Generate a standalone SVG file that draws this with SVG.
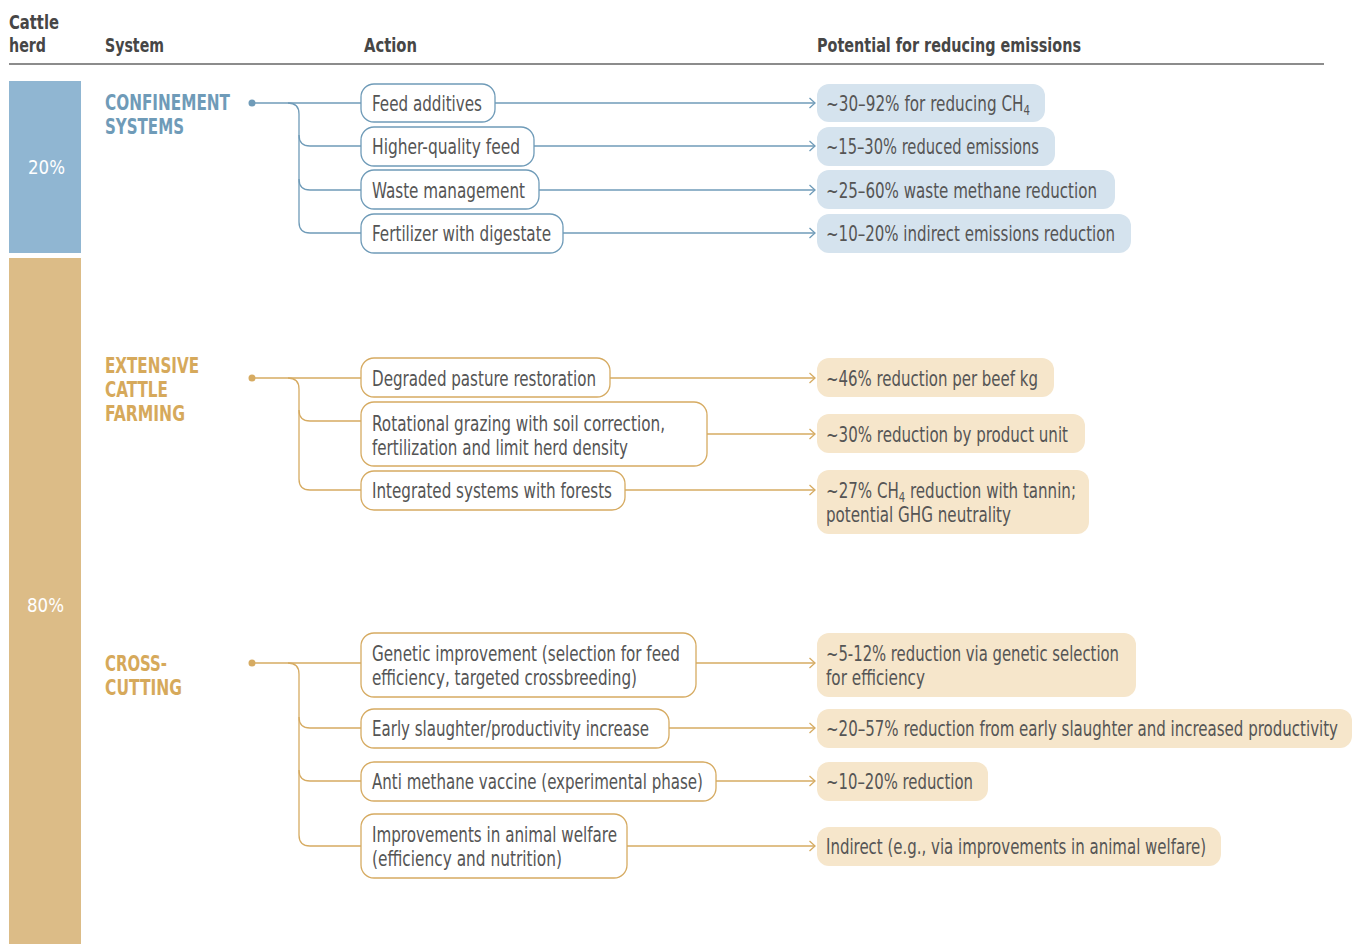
<svg xmlns="http://www.w3.org/2000/svg" width="1360" height="944" viewBox="0 0 1360 944">
<style>
text{font-family:"Liberation Sans Narrow","DejaVu Sans Condensed","Liberation Sans",sans-serif;font-stretch:condensed}
.hd{font-size:20px;font-weight:bold;fill:#464646}
.lbl{font-size:21px;fill:#555}
.res{font-size:21px;fill:#555}
.sub{font-size:14px}
.pct{font-size:20px;fill:#fff}
.catB{font-size:21px;font-weight:bold;fill:#6f9bb8}
.catG{font-size:21px;font-weight:bold;fill:#d6a95b}
.boxB{fill:#fff;stroke:#6f9bb8;stroke-width:1.3}
.boxG{fill:#fff;stroke:#d6ab62;stroke-width:1.3}
.resB{fill:#d5e3ee}
.resG{fill:#f6e6cb}
.lnB{fill:none;stroke:#6f9bb8;stroke-width:1.3}
.lnG{fill:none;stroke:#d6ab62;stroke-width:1.3}
.arB{fill:none;stroke:#6f9bb8;stroke-width:1.3;marker-end:url(#mB)}
.arG{fill:none;stroke:#d6ab62;stroke-width:1.3;marker-end:url(#mG)}
</style>
<defs>
<marker id="mB" markerUnits="userSpaceOnUse" markerWidth="12" markerHeight="14" viewBox="-8 -7 10 14" refX="0" refY="0" orient="auto"><path d="M-5.5,-5 L0,0 L-5.5,5" fill="none" stroke="#6f9bb8" stroke-width="1.3"/></marker>
<marker id="mG" markerUnits="userSpaceOnUse" markerWidth="12" markerHeight="14" viewBox="-8 -7 10 14" refX="0" refY="0" orient="auto"><path d="M-5.5,-5 L0,0 L-5.5,5" fill="none" stroke="#d6ab62" stroke-width="1.3"/></marker>
</defs>
<rect width="1360" height="944" fill="#fff"/>

<g id="header">
<text class="hd" x="9" y="29" textLength="50" lengthAdjust="spacingAndGlyphs">Cattle</text>
<text class="hd" x="9" y="52" textLength="37" lengthAdjust="spacingAndGlyphs">herd</text>
<text class="hd" x="105" y="52" textLength="59" lengthAdjust="spacingAndGlyphs">System</text>
<text class="hd" x="364" y="52" textLength="53" lengthAdjust="spacingAndGlyphs">Action</text>
<text class="hd" x="817" y="52" textLength="264" lengthAdjust="spacingAndGlyphs">Potential for reducing emissions</text>
<line x1="9" y1="64" x2="1324" y2="64" stroke="#666" stroke-width="1.3"/>
</g>

<g id="herd-bars">
<rect x="9" y="81" width="72" height="172" fill="#90b6d2"/>
<text class="pct" x="28" y="174" textLength="37" lengthAdjust="spacingAndGlyphs">20%</text>
<rect x="9" y="258" width="72" height="686" fill="#dcbc87"/>
<text class="pct" x="27" y="612" textLength="37" lengthAdjust="spacingAndGlyphs">80%</text>
</g>

<g id="connectors">
<path class="lnB" d="M252 103 H361"/>
<path class="lnB" d="M288 103 Q299 103 299 114 V222 Q299 233 310 233 H361"/>
<path class="lnB" d="M299 135 Q299 146 310 146 H361"/>
<path class="lnB" d="M299 179 Q299 190 310 190 H361"/>
<path class="arB" d="M495 103 H815"/>
<path class="arB" d="M534 146 H815"/>
<path class="arB" d="M539 190 H815"/>
<path class="arB" d="M563 233 H815"/>
<path class="lnG" d="M252 378 H361"/>
<path class="lnG" d="M288 378 Q299 378 299 389 V479 Q299 490 310 490 H361"/>
<path class="lnG" d="M299 410 Q299 421 310 421 H361"/>
<path class="arG" d="M610 378 H815"/>
<path class="arG" d="M707 434 H815"/>
<path class="arG" d="M625 490 H815"/>
<path class="lnG" d="M252 663 H361"/>
<path class="lnG" d="M288 663 Q299 663 299 674 V835 Q299 846 310 846 H361"/>
<path class="lnG" d="M299 717 Q299 728 310 728 H361"/>
<path class="lnG" d="M299 770 Q299 781 310 781 H361"/>
<path class="arG" d="M696 663 H815"/>
<path class="arG" d="M669 728 H815"/>
<path class="arG" d="M716 781 H815"/>
<path class="arG" d="M627 846 H815"/>
</g>

<g id="confinement">
<text class="catB" x="105" y="110" textLength="125" lengthAdjust="spacingAndGlyphs">CONFINEMENT</text>
<text class="catB" x="105" y="134" textLength="79" lengthAdjust="spacingAndGlyphs">SYSTEMS</text>
<circle cx="252" cy="103" r="3.5" fill="#6f9bb8"/>
</g>
<g id="a-feed-additives"><rect class="boxB" x="361" y="84" width="134" height="38" rx="13"/><text class="lbl" x="372" y="111" textLength="110" lengthAdjust="spacingAndGlyphs">Feed additives</text></g>
<g id="a-higher-quality"><rect class="boxB" x="361" y="127" width="173" height="39" rx="13"/><text class="lbl" x="372" y="154" textLength="148" lengthAdjust="spacingAndGlyphs">Higher-quality feed</text></g>
<g id="a-waste"><rect class="boxB" x="361" y="170" width="178" height="39" rx="13"/><text class="lbl" x="372" y="198" textLength="153" lengthAdjust="spacingAndGlyphs">Waste management</text></g>
<g id="a-fertilizer"><rect class="boxB" x="361" y="214" width="202" height="39" rx="13"/><text class="lbl" x="372" y="241" textLength="179" lengthAdjust="spacingAndGlyphs">Fertilizer with digestate</text></g>
<g id="r-feed-additives"><rect class="resB" x="817" y="84" width="228" height="38" rx="12"/><text class="res" x="826" y="111" textLength="204" lengthAdjust="spacingAndGlyphs">~30–92% for reducing CH<tspan class="sub" dy="4">4</tspan></text></g>
<g id="r-higher-quality"><rect class="resB" x="817" y="127" width="238" height="39" rx="12"/><text class="res" x="826" y="154" textLength="213" lengthAdjust="spacingAndGlyphs">~15–30% reduced emissions</text></g>
<g id="r-waste"><rect class="resB" x="817" y="170" width="298" height="39" rx="12"/><text class="res" x="826" y="198" textLength="271" lengthAdjust="spacingAndGlyphs">~25–60% waste methane reduction</text></g>
<g id="r-fertilizer"><rect class="resB" x="817" y="214" width="314" height="39" rx="12"/><text class="res" x="826" y="241" textLength="289" lengthAdjust="spacingAndGlyphs">~10–20% indirect emissions reduction</text></g>

<g id="extensive">
<text class="catG" x="105" y="373" textLength="94" lengthAdjust="spacingAndGlyphs">EXTENSIVE</text>
<text class="catG" x="105" y="397" textLength="63" lengthAdjust="spacingAndGlyphs">CATTLE</text>
<text class="catG" x="105" y="421" textLength="80" lengthAdjust="spacingAndGlyphs">FARMING</text>
<circle cx="252" cy="378" r="3.5" fill="#d6ab62"/>
</g>
<g id="a-pasture"><rect class="boxG" x="361" y="358" width="249" height="39" rx="13"/><text class="lbl" x="372" y="386" textLength="224" lengthAdjust="spacingAndGlyphs">Degraded pasture restoration</text></g>
<g id="a-rotational"><rect class="boxG" x="361" y="402" width="346" height="64" rx="13"/><text class="lbl" x="372" y="431" textLength="293" lengthAdjust="spacingAndGlyphs">Rotational grazing with soil correction,</text><text class="lbl" x="372" y="455" textLength="256" lengthAdjust="spacingAndGlyphs">fertilization and limit herd density</text></g>
<g id="a-integrated"><rect class="boxG" x="361" y="471" width="264" height="39" rx="13"/><text class="lbl" x="372" y="498" textLength="240" lengthAdjust="spacingAndGlyphs">Integrated systems with forests</text></g>
<g id="r-pasture"><rect class="resG" x="817" y="358" width="237" height="39" rx="12"/><text class="res" x="826" y="386" textLength="212" lengthAdjust="spacingAndGlyphs">~46% reduction per beef kg</text></g>
<g id="r-rotational"><rect class="resG" x="817" y="414" width="268" height="39" rx="12"/><text class="res" x="826" y="442" textLength="242" lengthAdjust="spacingAndGlyphs">~30% reduction by product unit</text></g>
<g id="r-integrated"><rect class="resG" x="817" y="470" width="272" height="64" rx="12"/><text class="res" x="826" y="498" textLength="250" lengthAdjust="spacingAndGlyphs">~27% CH<tspan class="sub" dy="4">4</tspan><tspan dy="-4"> reduction with tannin;</tspan></text><text class="res" x="826" y="522" textLength="185" lengthAdjust="spacingAndGlyphs">potential GHG neutrality</text></g>

<g id="cross-cutting">
<text class="catG" x="105" y="671" textLength="62" lengthAdjust="spacingAndGlyphs">CROSS-</text>
<text class="catG" x="105" y="695" textLength="77" lengthAdjust="spacingAndGlyphs">CUTTING</text>
<circle cx="252" cy="663" r="3.5" fill="#d6ab62"/>
</g>
<g id="a-genetic"><rect class="boxG" x="361" y="633" width="335" height="64" rx="13"/><text class="lbl" x="372" y="661" textLength="308" lengthAdjust="spacingAndGlyphs">Genetic improvement (selection for feed</text><text class="lbl" x="372" y="685" textLength="265" lengthAdjust="spacingAndGlyphs">efficiency, targeted crossbreeding)</text></g>
<g id="a-early"><rect class="boxG" x="361" y="709" width="308" height="39" rx="13"/><text class="lbl" x="372" y="736" textLength="277" lengthAdjust="spacingAndGlyphs">Early slaughter/productivity increase</text></g>
<g id="a-vaccine"><rect class="boxG" x="361" y="762" width="355" height="39" rx="13"/><text class="lbl" x="372" y="789" textLength="331" lengthAdjust="spacingAndGlyphs">Anti methane vaccine (experimental phase)</text></g>
<g id="a-welfare"><rect class="boxG" x="361" y="814" width="266" height="64" rx="13"/><text class="lbl" x="372" y="842" textLength="245" lengthAdjust="spacingAndGlyphs">Improvements in animal welfare</text><text class="lbl" x="372" y="866" textLength="190" lengthAdjust="spacingAndGlyphs">(efficiency and nutrition)</text></g>
<g id="r-genetic"><rect class="resG" x="817" y="633" width="319" height="64" rx="12"/><text class="res" x="826" y="661" textLength="293" lengthAdjust="spacingAndGlyphs">~5-12% reduction via genetic selection</text><text class="res" x="826" y="685" textLength="99" lengthAdjust="spacingAndGlyphs">for efficiency</text></g>
<g id="r-early"><rect class="resG" x="817" y="709" width="535" height="39" rx="12"/><text class="res" x="826" y="736" textLength="512" lengthAdjust="spacingAndGlyphs">~20–57% reduction from early slaughter and increased productivity</text></g>
<g id="r-vaccine"><rect class="resG" x="817" y="762" width="171" height="39" rx="12"/><text class="res" x="826" y="789" textLength="147" lengthAdjust="spacingAndGlyphs">~10–20% reduction</text></g>
<g id="r-welfare"><rect class="resG" x="817" y="827" width="404" height="39" rx="12"/><text class="res" x="826" y="854" textLength="380" lengthAdjust="spacingAndGlyphs">Indirect (e.g., via improvements in animal welfare)</text></g>
</svg>
